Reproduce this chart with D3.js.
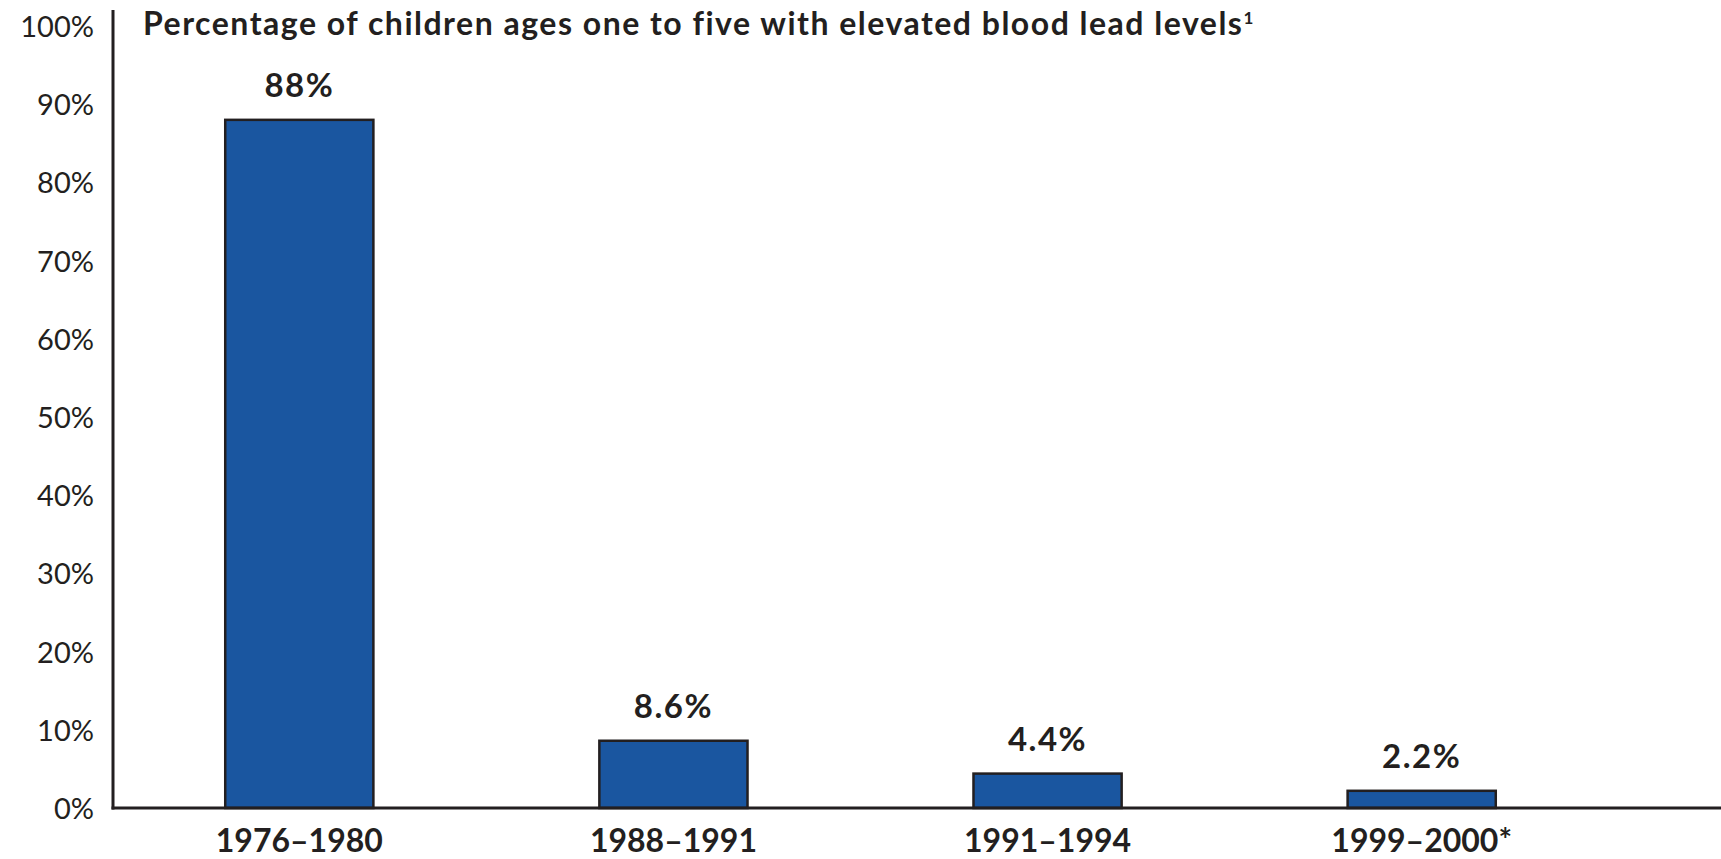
<!DOCTYPE html>
<html>
<head>
<meta charset="utf-8">
<script src="https://cdn.jsdelivr.net/npm/d3@7"></script>
<style>
  body { margin: 0; background: #fff; }
  text { font-family: Lato, "Open Sans", sans-serif; fill: #231f20; }
</style>
</head>
<body>
<div id="graph"></div>
<script>
// data
var periods = ["1976\u20131980", "1988\u20131991", "1991\u20131994", "1999\u20132000*"];
var percents = [88, 8.6, 4.4, 2.2];
var valueLabels = ["88%", "8.6%", "4.4%", "2.2%"];
var yTicks = [0, 10, 20, 30, 40, 50, 60, 70, 80, 90, 100];
var title = "Percentage of children ages one to five with elevated blood lead levels";

var svgWidth = 1721, svgHeight = 859;
var axisX = 113, baseY = 808;

var svg = d3.select("#graph").append("svg")
  .attr("width", svgWidth)
  .attr("height", svgHeight);

var xScale = d3.scaleBand().domain(periods).range([axisX, 1608])
  .paddingInner(0.604).paddingOuter(0.3);
var yScale = d3.scaleLinear().domain([0, 100]).range([baseY, 26]);

// y axis ticks (labels only)
var yAxis = svg.append("g")
  .attr("transform", "translate(" + (axisX - 19) + ",0)")
  .call(d3.axisLeft(yScale).tickValues(yTicks).tickSize(0).tickPadding(0)
    .tickFormat(function(d) { return d + "%"; }));
yAxis.select(".domain").remove();
yAxis.selectAll("text")
  .style("font-family", "Lato, sans-serif")
  .style("font-size", "29px")
  .attr("fill", "#231f20")
  .attr("dy", "0.36em");

// bars
svg.selectAll("rect.bar").data(percents).enter().append("rect")
  .attr("class", "bar")
  .attr("x", function(d, i) { return xScale(periods[i]); })
  .attr("y", function(d) { return yScale(d); })
  .attr("width", xScale.bandwidth())
  .attr("height", function(d) { return baseY - yScale(d); })
  .style("fill", "#1a56a0")
  .style("stroke", "#231f20")
  .style("stroke-width", 2.5);

// value labels
svg.selectAll("text.val").data(percents).enter().append("text")
  .attr("class", "val")
  .attr("x", function(d, i) { return xScale(periods[i]) + xScale.bandwidth() / 2; })
  .attr("y", function(d) { return yScale(d) - 23; })
  .attr("text-anchor", "middle")
  .style("font-weight", "bold")
  .style("font-size", "33px")
  .style("letter-spacing", "1.5px")
  .text(function(d, i) { return valueLabels[i]; });

// axis lines
svg.append("line")
  .attr("x1", axisX).attr("x2", axisX)
  .attr("y1", 10).attr("y2", baseY + 1.5)
  .style("stroke", "#231f20").style("stroke-width", 3);
svg.append("line")
  .attr("x1", axisX - 1.5).attr("x2", svgWidth)
  .attr("y1", baseY).attr("y2", baseY)
  .style("stroke", "#231f20").style("stroke-width", 3);

// category labels
svg.selectAll("text.cat").data(periods).enter().append("text")
  .attr("class", "cat")
  .attr("x", function(d) { return xScale(d) + xScale.bandwidth() / 2; })
  .attr("y", 852)
  .attr("text-anchor", "middle")
  .style("font-weight", "bold")
  .style("font-size", "32px")
  .text(function(d) { return d; });

// title
var t = svg.append("text")
  .attr("x", 143).attr("y", 35)
  .style("font-weight", "bold")
  .style("font-size", "32px")
  .style("letter-spacing", "1.5px")
  .text(title);
t.append("tspan")
  .attr("dy", -11)
  .attr("dx", 0)
  .style("font-size", "17px")
  .style("letter-spacing", "0px")
  .text("1");
</script>
</body>
</html>
